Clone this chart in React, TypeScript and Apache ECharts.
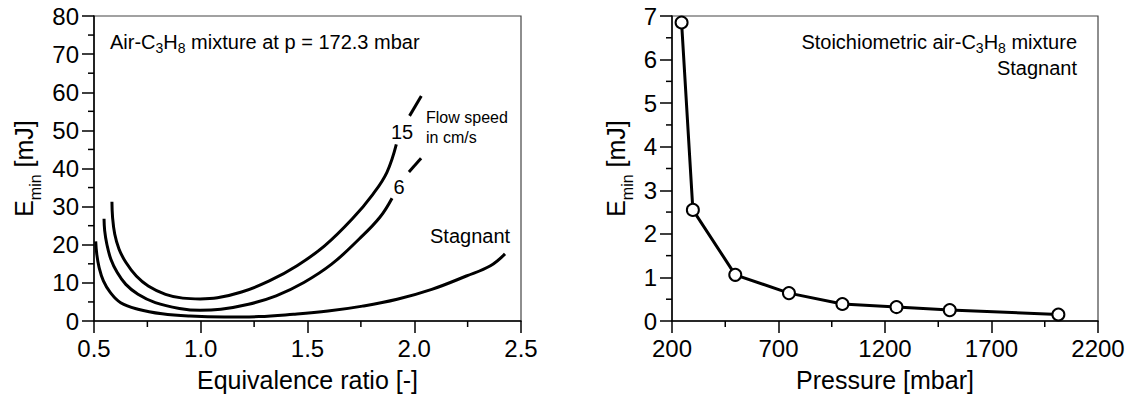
import React, { useEffect, useRef } from 'react';
import * as echarts from 'echarts';

// Left panel: E_min vs equivalence ratio (p = 172.3 mbar)
const ratio15Low = [0.584, 0.587, 0.597, 0.617, 0.649, 0.698, 0.754, 0.835, 0.916, 0.997, 1.078, 1.191, 1.321, 1.451, 1.580, 1.710, 1.807, 1.872, 1.916];
const energy15Low = [31.3, 27.2, 22.8, 18.9, 15.4, 11.8, 9.2, 7.0, 6.0, 5.8, 6.1, 7.6, 10.5, 14.5, 19.7, 26.8, 33.3, 39.0, 46.3];
const ratio15High = [1.978, 2.033];
const energy15High = [53.8, 59.0];

const ratio6Low = [0.547, 0.550, 0.560, 0.579, 0.609, 0.649, 0.706, 0.787, 0.900, 0.997, 1.094, 1.224, 1.353, 1.483, 1.613, 1.742, 1.839, 1.896];
const energy6Low = [26.8, 23.7, 20.2, 16.2, 12.7, 9.6, 7.0, 4.8, 3.3, 2.8, 3.1, 4.4, 6.6, 10.1, 14.9, 21.5, 27.2, 32.2];
const ratio6High = [1.975, 2.032];
const energy6High = [39.1, 42.7];

const ratioStag = [0.508, 0.513, 0.524, 0.544, 0.576, 0.625, 0.706, 0.819, 0.949, 1.11, 1.272, 1.434, 1.596, 1.758, 1.920, 2.082, 2.244, 2.357, 2.425];
const energyStag = [20.9, 17.5, 14.0, 10.5, 7.5, 4.8, 3.1, 1.9, 1.3, 1.05, 1.15, 1.75, 2.6, 3.9, 5.7, 8.3, 11.8, 14.5, 17.6];

// Right panel: E_min vs pressure (stoichiometric, stagnant)
const pressure = [245, 298, 497, 749, 1000, 1254, 1504, 2014];
const eminPressure = [6.85, 2.55, 1.06, 0.64, 0.39, 0.32, 0.25, 0.15];

// Minor tick values (between the labelled ticks)
const minorRatio = [0.75, 1.25, 1.75, 2.25];
const minorEnergyLeft = [5, 15, 25, 35, 45, 55, 65, 75];
const minorPressure = [450, 950, 1450, 1950];
const minorEnergyRight = [0.5, 1.5, 2.5, 3.5, 4.5, 5.5, 6.5];

const FONT = '"Liberation Sans", Arial, Helvetica, sans-serif';

const zip = (xs: number[], ys: number[]) => xs.map((x, i) => [x, ys[i]]);

const axisBase = (extra: any) => ({
  type: 'value',
  splitLine: { show: false },
  axisLine: { onZero: false, lineStyle: { color: '#000', width: 1.5 } },
  axisTick: { length: 12, lineStyle: { color: '#000', width: 1.5 } },
  axisLabel: { fontSize: 24, color: '#000', fontFamily: FONT, margin: 15, formatter: (v: number) => String(v) },
  nameLocation: 'middle',
  nameTextStyle: { fontSize: 25, color: '#000', fontFamily: FONT },
  ...extra,
});

const yNameRich = {
  a: { fontSize: 25, lineHeight: 25, color: '#000', fontFamily: FONT },
  s: { fontSize: 16, lineHeight: 16, color: '#000', fontFamily: FONT, padding: [24, 0, 0, 0] },
};

const curve = (name: string, xs: number[], ys: number[], xi: number) => ({
  name,
  type: 'line',
  xAxisIndex: xi,
  yAxisIndex: xi,
  data: zip(xs, ys),
  smooth: 0.4,
  showSymbol: false,
  symbol: 'none',
  lineStyle: { color: '#000', width: 3 },
});

const subRich = (size: number, sub: number, pad: number) => ({
  n: { fontSize: size, lineHeight: size, fontFamily: FONT, fill: '#000' },
  s: { fontSize: sub, lineHeight: sub, fontFamily: FONT, fill: '#000', padding: [pad, 0, 0, 0] },
});

const txt = (x: number, y: number, text: string, size: number, align: string, rich?: any) => ({
  type: 'text',
  x,
  y,
  silent: true,
  style: {
    text,
    fontSize: size,
    fontFamily: FONT,
    fill: '#000',
    align,
    verticalAlign: 'middle',
    textAlign: align,
    textVerticalAlign: 'middle',
    ...(rich ? { rich } : {}),
  },
});

const tickLine = (x1: number, y1: number, x2: number, y2: number) => ({
  type: 'line',
  silent: true,
  shape: { x1, y1, x2, y2 },
  style: { stroke: '#000', lineWidth: 1.5 },
});

export default function App() {
  const ref = useRef<HTMLDivElement>(null);
  useEffect(() => {
    if (!ref.current) return;
    const chart = echarts.init(ref.current, null, { renderer: 'svg' });
    const texts = [
      txt(110, 42, '{n|Air-C}{s|3}{n|H}{s|8}{n| mixture at p = 172.3 mbar}', 20, 'left', subRich(20, 14, 11)),
      txt(426, 117, 'Flow speed', 16, 'left'),
      txt(426, 137, 'in cm/s', 16, 'left'),
      txt(402, 132, '15', 20, 'center'),
      txt(399, 187, '6', 20, 'center'),
      txt(430, 236, 'Stagnant', 20, 'left'),
      txt(1077, 42, '{n|Stoichiometric air-C}{s|3}{n|H}{s|8}{n| mixture}', 20, 'right', subRich(20, 14, 11)),
      txt(1077, 68, 'Stagnant', 20, 'right'),
    ];
    const option: any = {
      animation: false,
      backgroundColor: '#fff',
      textStyle: { fontFamily: FONT },
      grid: [
        { left: 94, top: 16, width: 427, height: 305, show: true, borderColor: '#444', borderWidth: 1.2, backgroundColor: 'transparent' },
        { left: 672, top: 16, width: 426, height: 305, show: true, borderColor: '#444', borderWidth: 1.2, backgroundColor: 'transparent' },
      ],
      xAxis: [
        axisBase({
          gridIndex: 0, min: 0.5, max: 2.5, interval: 0.5,
          name: 'Equivalence ratio [-]', nameGap: 46,
          axisLabel: { fontSize: 24, color: '#000', fontFamily: FONT, margin: 15, formatter: (v: number) => v.toFixed(1) },
        }),
        axisBase({
          gridIndex: 1, min: 200, max: 2200, interval: 500,
          name: 'Pressure [mbar]', nameGap: 46,
        }),
      ],
      yAxis: [
        axisBase({
          gridIndex: 0, min: 0, max: 80, interval: 10,
          name: '{a|E}{s|min}{a| [mJ]}', nameGap: 58, nameRotate: 90,
          nameTextStyle: { fontSize: 25, color: '#000', fontFamily: FONT, rich: yNameRich },
        }),
        axisBase({
          gridIndex: 1, min: 0, max: 7, interval: 1,
          name: '{a|E}{s|min}{a| [mJ]}', nameGap: 44, nameRotate: 90,
          nameTextStyle: { fontSize: 25, color: '#000', fontFamily: FONT, rich: yNameRich },
        }),
      ],
      series: [
        curve('15 cm/s', ratio15Low, energy15Low, 0),
        curve('15 cm/s upper', ratio15High, energy15High, 0),
        curve('6 cm/s', ratio6Low, energy6Low, 0),
        curve('6 cm/s upper', ratio6High, energy6High, 0),
        curve('Stagnant', ratioStag, energyStag, 0),
        {
          name: 'Stagnant pressure',
          type: 'line',
          xAxisIndex: 1,
          yAxisIndex: 1,
          data: zip(pressure, eminPressure),
          smooth: false,
          symbol: 'circle',
          symbolSize: 12,
          showSymbol: true,
          lineStyle: { color: '#000', width: 3 },
          itemStyle: { color: '#fff', borderColor: '#000', borderWidth: 2 },
        },
      ],
      graphic: texts,
    };
    chart.setOption(option);

    // Minor ticks placed through the axes' own scales
    const ticks: any[] = [];
    const addMinor = (idx: number, xMin: number, yMin: number, xs: number[], ys: number[]) => {
      const axisY = chart.convertToPixel({ yAxisIndex: idx } as any, yMin) as number;
      const axisX = chart.convertToPixel({ xAxisIndex: idx } as any, xMin) as number;
      xs.forEach((v) => {
        const px = chart.convertToPixel({ xAxisIndex: idx } as any, v) as number;
        ticks.push(tickLine(px, axisY, px, axisY + 6));
      });
      ys.forEach((v) => {
        const py = chart.convertToPixel({ yAxisIndex: idx } as any, v) as number;
        ticks.push(tickLine(axisX - 6, py, axisX, py));
      });
    };
    addMinor(0, 0.5, 0, minorRatio, minorEnergyLeft);
    addMinor(1, 200, 0, minorPressure, minorEnergyRight);
    chart.setOption({ graphic: [...texts, ...ticks] });

    return () => chart.dispose();
  }, []);
  return (
    <div
      ref={ref}
      style={{ position: 'absolute', left: 0, top: 0, width: 1134, height: 398, background: '#fff' }}
    />
  );
}
